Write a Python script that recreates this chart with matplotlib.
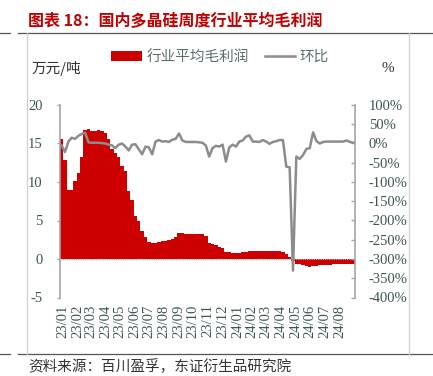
import matplotlib
matplotlib.use("Agg")
import matplotlib.pyplot as plt
import matplotlib.dates as mdates
from matplotlib.lines import Line2D
from matplotlib.patches import Patch
import pandas as pd

plt.rcParams["axes.unicode_minus"] = False

# weekly data, 2022-12-30 .. 2024-08-30
dates = pd.date_range("2022-12-30", periods=88, freq="7D")
month_ticks = pd.date_range("2023-01-01", "2024-08-01", freq="MS")

profit = [
    15.6, 12.8, 9.0, 9.0, 10.1, 11.2, 13.2, 16.7, 16.9, 16.6,
    16.6, 16.7, 16.6, 16.4, 15.6, 14.3, 13.8, 13.2, 12.1, 11.4,
    8.8, 7.7, 5.6, 5.0, 3.6, 2.8, 2.2, 2.1, 2.1, 2.2,
    2.3, 2.4, 2.5, 2.6, 2.8, 3.4, 3.4, 3.3, 3.3, 3.3,
    3.3, 3.3, 3.2, 3.0, 2.1, 1.9, 1.8, 1.6, 1.4, 0.9,
    0.85, 0.8, 0.8, 0.8, 0.85, 0.9, 1.0, 1.0, 1.0, 1.0,
    1.05, 1.05, 1.0, 1.0, 1.0, 1.05, 0.95, 0.6, 0.25, -0.3,
    -0.6, -0.7, -0.8, -0.95, -1.0, -0.9, -0.85, -0.8, -0.8, -0.75,
    -0.75, -0.7, -0.7, -0.7, -0.7, -0.7, -0.65, -0.65,
]

wow_pct = [
    -5, -22, 5, 15, 12, 20, 25, 28, 3, 2,
    2, 2, 1, 0, -3, -5, -12, -3, 0, -8,
    -18, -3, -2, -15, -28, -8, -10, -28, 5, 9,
    5, 6, 4, 10, 12, 26, 8, 4, 4, 4,
    4, 3, 2, -5, -34, -12, -6, -8, -3, -47,
    -10, -3, -8, 5, 8, 18, 21, 5, 5, 4,
    9, 5, -1, 4, 6, 9, 9, -60, -62, -330,
    -34, -40, -30, -14, -12, 29, 6, 0, 4, 5,
    5, 5, 5, 5, 5, 8, 4, 2,
]

left_ticks = [-5, 0, 5, 10, 15, 20]
right_ticks = [-400, -350, -300, -250, -200, -150, -100, -50, 0, 50, 100]

W, H = 433, 376
RED = "#CC0000"
GRAY_LINE = "#8C8C8C"
TICK_COLOR = "#3D5555"
SERIF = ["Liberation Serif", "DejaVu Serif"]
CJK = ["Noto Sans CJK SC", "DejaVu Sans"]


def px(x, y):
    return x / W, 1 - y / H


fig = plt.figure(figsize=(W / 100, H / 100), dpi=100)
ax = fig.add_axes([60 / W, 1 - 297.5 / H, 295 / W, 192.5 / H])
ax2 = ax.twinx()

ax.bar(dates, profit, width=7, color=RED, linewidth=0, align="center", zorder=2)
ax.axhline(0, color="#E8A0A0", lw=0.8, ls=(0, (1, 1)), zorder=3)
ax2.plot(dates, wow_pct, color=GRAY_LINE, lw=1.8, zorder=4)

ax.set_zorder(1)
ax2.set_zorder(2)

ax.set_xlim(dates[0] - pd.Timedelta(days=3.5), dates[-1] + pd.Timedelta(days=3.5))
ax.set_ylim(-5, 20)
ax2.set_ylim(-400, 100)

ax.set_yticks(left_ticks)
ax.set_yticklabels([str(v) for v in left_ticks], fontfamily=SERIF, fontsize=10.5, color=TICK_COLOR)
ax2.set_yticks(right_ticks)
ax2.set_yticklabels([f"{v}%" for v in right_ticks], fontfamily=SERIF, fontsize=10.5, color=TICK_COLOR)

ax.set_xticks(month_ticks)
ax.xaxis.set_major_formatter(mdates.DateFormatter("%y/%m"))
for lab in ax.get_xticklabels():
    lab.set_fontfamily(SERIF)
    lab.set_fontsize(10.5)
    lab.set_color(TICK_COLOR)
    lab.set_rotation(90)

ax.tick_params(axis="x", length=0, pad=5)
ax.tick_params(axis="y", direction="out", length=2.5, width=1, color="#A6A6A6", pad=10)
ax2.tick_params(axis="y", direction="in", length=3, width=1, color="#A6A6A6", pad=10)

for a in (ax, ax2):
    for side in ("top", "bottom", "left", "right"):
        a.spines[side].set_visible(False)
ax.spines["left"].set_visible(True)
ax.spines["left"].set_color("#A6A6A6")
ax.spines["left"].set_linewidth(1.2)
ax2.spines["right"].set_visible(True)
ax2.spines["right"].set_color("#A6A6A6")
ax2.spines["right"].set_linewidth(1.2)
ax.patch.set_visible(False)

# legend
handles = [
    Patch(facecolor=RED, edgecolor="none", label="行业平均毛利润"),
    Line2D([0], [0], color=GRAY_LINE, lw=1.8, label="环比"),
]
fig.legend(
    handles=handles, loc="center", bbox_to_anchor=px(220, 57), ncol=2,
    frameon=False, prop={"family": CJK, "size": 10.5}, labelcolor="#5A6E6E",
    handlelength=2.1, handleheight=0.65, handletextpad=0.3, columnspacing=1.1,
    borderaxespad=0, borderpad=0,
)

fig.text(*px(32, 68), "万元/吨", fontfamily=CJK, fontsize=10.5, color="#333333", va="center", ha="left")
fig.text(*px(388, 68), "%", fontfamily=SERIF, fontsize=11, color="#333333", va="center", ha="center")

# title, source and frame
fig.text(*px(28, 21), "图表 18：国内多晶硅周度行业平均毛利润", fontfamily=CJK, fontsize=11.5,
         fontweight="bold", color="#C00000", va="center", ha="left")
fig.text(*px(28, 367), "资料来源：百川盈孚，东证衍生品研究院", fontfamily=CJK, fontsize=10.5,
         color="#333333", va="center", ha="left")

for yy in (33, 354):
    fig.add_artist(Line2D([0, 10 / W], [1 - yy / H] * 2, color="#555555", lw=0.9))
    fig.add_artist(Line2D([18 / W, 1], [1 - yy / H] * 2, color="#555555", lw=0.9))
for xx in (27, 409):
    fig.add_artist(Line2D([xx / W] * 2, [1 - 33 / H, 1 - 354 / H], color="#D0D0D0", lw=0.9))

fig.savefig("out.png", dpi=100)
